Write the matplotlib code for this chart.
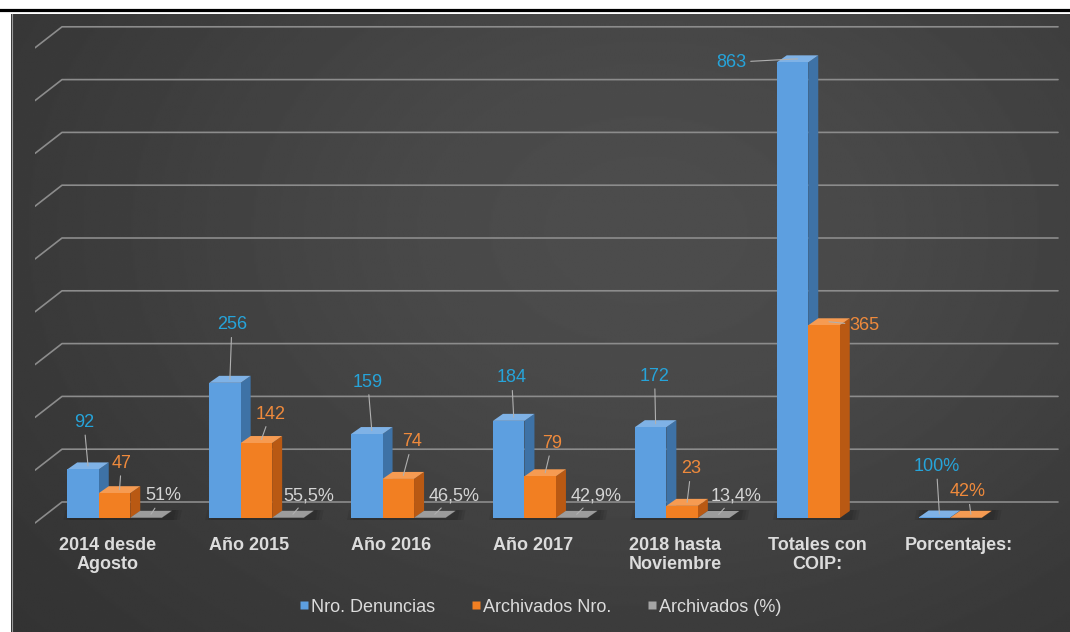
import numpy as np
import matplotlib.pyplot as plt
from matplotlib.patches import Polygon
from matplotlib.lines import Line2D

categories = ['2014 desde\nAgosto', 'Año 2015', 'Año 2016', 'Año 2017',
              '2018 hasta\nNoviembre', 'Totales con\nCOIP:', 'Porcentajes:']
denuncias = [92, 256, 159, 184, 172, 863, 1.00]
archivados = [47, 142, 74, 79, 23, 365, 0.42]
archivados_pct = [0.51, 0.555, 0.465, 0.429, 0.134, None, None]
labels_den = ['92', '256', '159', '184', '172', '863', '100%']
labels_arc = ['47', '142', '74', '79', '23', '365', '42%']
labels_pct = ['51%', '55,5%', '46,5%', '42,9%', '13,4%', '', '']
series_names = ['Nro. Denuncias', 'Archivados Nro.', 'Archivados (%)']
grid_values = np.arange(0, 1000, 100)

# label offsets in pixels (right, up) from the front top of each bar
off_den = [(1, 47), (7, 58), (1, 52), (3, 43), (4, 51), (-61, 0), (2, 51)]
off_arc = [(7, 30), (14, 29), (14, 37), (12, 33), (9, 37), (40, 0), (2, 26)]
off_pct = [(17, 22), (21, 22), (24, 22), (24, 22), (22, 22), None, None]

plt.rcParams['font.family'] = ['Liberation Sans', 'DejaVu Sans']

W, H = 1070, 632
fig = plt.figure(figsize=(W / 100, H / 100), dpi=100)
fig.patch.set_facecolor('white')

# dark panel with soft radial gradient
bg = fig.add_axes([11 / W, 0, (W - 11) / W, (H - 14) / H])
yy, xx = np.mgrid[0:1:300j, 0:1:500j]
r2 = ((xx - 0.6) / 0.6) ** 2 + ((yy - 0.35) / 0.75) ** 2
img = 0.18 + 0.12 * np.exp(-r2)
bg.imshow(img, cmap='gray', vmin=0, vmax=1, aspect='auto',
          extent=(0, 1, 1, 0), interpolation='bilinear')
bg.set_xlim(0, 1)
bg.set_ylim(1, 0)
bg.axis('off')
fig.add_artist(Line2D([11.5 / W] * 2, [0, 1 - 14 / H], color='#9a9a9a', lw=0.8))
fig.add_artist(Line2D([0, 1], [1 - 10 / H] * 2, color='black', lw=2.3))

# main axes: 1 category = 141.9 px, 1 unit = 0.528 px
sx, sy = 141.9, 0.528
ax = fig.add_axes([35 / W, 1 - 530 / H, (1060 - 35) / W, 510 / H])
ax.set_xlim((35 - 114.5) / sx, (1060 - 114.5) / sx)
ax.set_ylim((518 - 530) / sy, (518 - 20) / sy)
ax.axis('off')
ax.patch.set_alpha(0)


def DX(p):
    return p / sx


def DY(p):
    return p / sy


w = DX(31.5)
bdx, bdy = DX(10), DY(7)
x_left_front = (35 - 114.5) / sx
x_left_back = (62 - 114.5) / sx
x_right = (1058 - 114.5) / sx

for v in grid_values:
    ax.plot([x_left_front, x_left_back, x_right],
            [v + DY(-5), v + DY(16), v + DY(16)],
            color='#8c8c8c', lw=1.2, zorder=1, solid_capstyle='round')

colors = [('#5d9fe0', '#3e72a6', '#7fb2e6'),
          ('#f27f22', '#b95913', '#f69b52'),
          ('#a5a5a5', '#707070', '#9c9c9c')]
label_colors = ['#26a4da', '#ef8a3c', '#d5d5d5']
series = [denuncias, archivados, archivados_pct]
labels = [labels_den, labels_arc, labels_pct]
offsets = [off_den, off_arc, off_pct]

for i in range(len(categories)):
    n = sum(s[i] is not None for s in series)
    gx0 = i - 1.5 * w
    gx1 = gx0 + n * w + bdx
    # soft floor shadow
    for k, a in enumerate([0.08, 0.08, 0.08]):
        e = DX(3 * k)
        ax.add_patch(Polygon([(gx0 - DX(4) + e, DY(-2)), (gx1 + DX(8) - e, DY(-2)),
                              (gx1 + DX(10) - e, DY(8)), (gx0 - DX(2) + e, DY(8))],
                             closed=True, facecolor='black', alpha=a,
                             edgecolor='none', zorder=2))
    for j, s in enumerate(series):
        v = s[i]
        if v is None:
            continue
        x0 = i - 1.5 * w + j * w
        front, side, top = colors[j]
        ax.add_patch(Polygon([(x0 + w, 0), (x0 + w + bdx, bdy),
                              (x0 + w + bdx, v + bdy), (x0 + w, v)],
                             closed=True, facecolor=side, edgecolor='none',
                             zorder=3))
        ax.add_patch(Polygon([(x0, v), (x0 + bdx, v + bdy),
                              (x0 + w + bdx, v + bdy), (x0 + w, v)],
                             closed=True, facecolor=top, edgecolor='none',
                             zorder=3))
        ax.add_patch(Polygon([(x0, 0), (x0 + w, 0), (x0 + w, v), (x0, v)],
                             closed=True, facecolor=front, edgecolor='none',
                             zorder=3))

for i in range(len(categories)):
    for j, s in enumerate(series):
        v = s[i]
        if v is None:
            continue
        x0 = i - 1.5 * w + j * w
        mx, my = offsets[j][i]
        ax.annotate(labels[j][i], xy=(x0 + w / 2 + bdx / 2, v + bdy / 2),
                    xytext=((mx - 5) * 0.72, (my - 3.5) * 0.72),
                    textcoords='offset points', ha='center', va='center',
                    fontsize=13, color=label_colors[j], zorder=6,
                    arrowprops=dict(arrowstyle='-', color='#b0b0b0', lw=0.8,
                                    shrinkA=1, shrinkB=0))

for i, c in enumerate(categories):
    ax.text(i - DX(7), (518 - 537) / sy, c, ha='center', va='top',
            fontsize=13, fontweight='bold', color='#dcdcdc',
            linespacing=1.15, clip_on=False)

handles = [Line2D([], [], marker='s', linestyle='none', markersize=6,
                  markerfacecolor=colors[j][0], markeredgecolor='none')
           for j in range(3)]
leg = fig.legend(handles, series_names, loc='center', ncol=3,
                 bbox_to_anchor=(540 / W, 1 - 607 / H), frameon=False,
                 fontsize=13, handlelength=0.6, handletextpad=0.05,
                 columnspacing=2.0, labelcolor='#dcdcdc')

fig.savefig('out.png', dpi=100, facecolor='white')
